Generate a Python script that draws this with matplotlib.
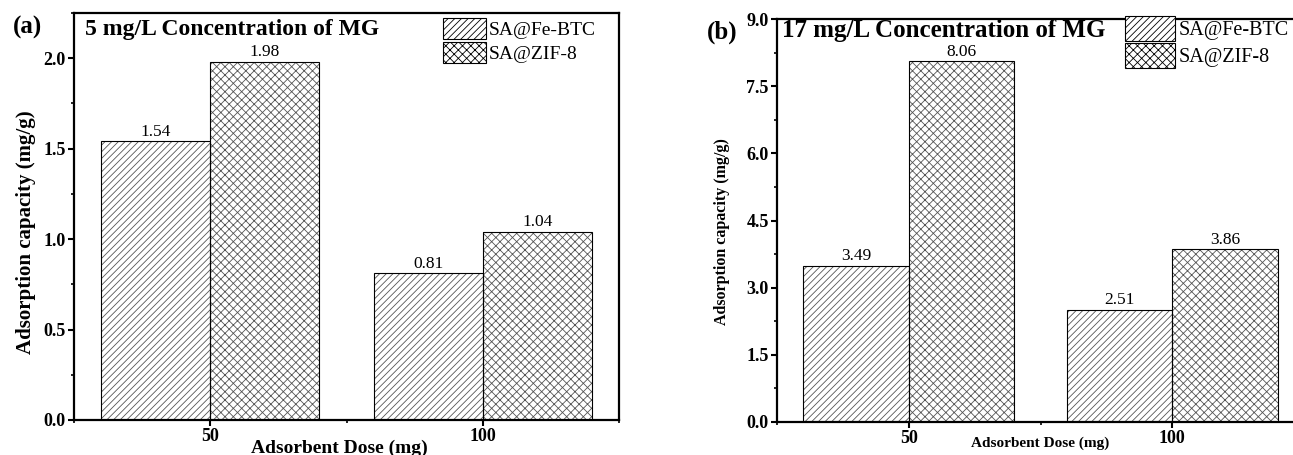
import matplotlib
matplotlib.use("Agg")
import matplotlib.pyplot as plt
import numpy as np
from matplotlib.patches import Patch
from matplotlib.ticker import MultipleLocator, FormatStrFormatter

plt.rcParams['font.family'] = ['Liberation Serif', 'DejaVu Serif']
plt.rcParams['hatch.linewidth'] = 0.6

doses = ["50", "100"]
series = ["SA@Fe-BTC", "SA@ZIF-8"]
vals_a = {"SA@Fe-BTC": [1.54, 0.81], "SA@ZIF-8": [1.98, 1.04]}
vals_b = {"SA@Fe-BTC": [3.49, 2.51], "SA@ZIF-8": [8.06, 3.86]}
title_a = "5 mg/L Concentration of MG"
title_b = "17 mg/L Concentration of MG"
ylabel = "Adsorption capacity (mg/g)"
xlabel = "Adsorbent Dose (mg)"

hatches = {"SA@Fe-BTC": "/////", "SA@ZIF-8": "xxxx"}
hatch_col = "#555555"

W, H = 1293, 455
fig = plt.figure(figsize=(W / 100, H / 100), dpi=100)


def rect(l, t, r, b):
    return [l / W, 1 - b / H, (r - l) / W, (b - t) / H]


def draw(ax, vals, ymax, major, tick_fs, val_fs):
    x = np.arange(len(doses))
    w = 0.4
    for i, s in enumerate(series):
        pos = x + (i - 0.5) * w
        ax.bar(pos, vals[s], w, color="white", edgecolor=hatch_col,
               hatch=hatches[s], linewidth=0, zorder=2)
        ax.bar(pos, vals[s], w, fill=False, edgecolor="black",
               linewidth=0.8, zorder=3)
        for p, v in zip(pos, vals[s]):
            ax.annotate(f"{v:.2f}", (p, v), xytext=(0, 1),
                        textcoords="offset points", ha="center", va="bottom",
                        fontsize=val_fs)
    ax.set_xlim(-0.5, 1.5)
    ax.set_ylim(0, ymax)
    ax.set_xticks(x)
    ax.set_xticklabels(doses, fontweight="bold", fontsize=tick_fs)
    ax.xaxis.set_minor_locator(MultipleLocator(0.5))
    ax.yaxis.set_major_locator(MultipleLocator(major))
    ax.yaxis.set_minor_locator(MultipleLocator(major / 2))
    ax.yaxis.set_major_formatter(FormatStrFormatter("%.1f"))
    for lab in ax.get_yticklabels():
        lab.set_fontweight("bold")
        lab.set_fontsize(tick_fs)
    ax.tick_params(axis="both", which="major", direction="out", length=4,
                   width=1.5, pad=2)
    ax.tick_params(axis="both", which="minor", direction="out", length=2.5,
                   width=1.2)
    for sp in ax.spines.values():
        sp.set_linewidth(1.6)


ax1 = fig.add_axes(rect(74, 13, 619, 420))
draw(ax1, vals_a, 2.25, 0.5, 13, 12.5)
ax1.text(0.02, 0.96, title_a, transform=ax1.transAxes, fontsize=17,
         fontweight="bold", va="center", ha="left")

ax2 = fig.add_axes(rect(777, 19, 1304, 422))
draw(ax2, vals_b, 9.0, 1.5, 13, 12.5)
ax2.text(0.01, 0.972, title_b, transform=ax2.transAxes, fontsize=18,
         fontweight="bold", va="center", ha="left")
labs = ax2.get_yticklabels()
labs[-1].set_fontsize(10)
labs[-1].set_va("bottom")

h = [Patch(facecolor="white", edgecolor="black", hatch=hatches[s], lw=0.8)
     for s in series]
leg1 = ax1.legend(h, series, loc="upper left",
                  bbox_to_anchor=(443 / W, 1 - 18 / H),
                  bbox_transform=fig.transFigure, frameon=False, fontsize=14,
                  handlelength=2.2, handleheight=1.3, handletextpad=0.15,
                  labelspacing=0.12, borderpad=0, borderaxespad=0)
leg2 = ax2.legend(h, series, loc="upper left",
                  bbox_to_anchor=(1125 / W, 1 - 16 / H),
                  bbox_transform=fig.transFigure, frameon=False, fontsize=14.5,
                  handlelength=2.5, handleheight=1.5, handletextpad=0.15,
                  labelspacing=0.12, borderpad=0, borderaxespad=0)

fig.text(26 / W, 1 - 232 / H, ylabel, rotation=90, ha="center", va="center",
         fontsize=15, fontweight="bold")
fig.text(722 / W, 1 - 232 / H, ylabel, rotation=90, ha="center", va="center",
         fontsize=11.5, fontweight="bold")
fig.text(339 / W, 1 - 448 / H, xlabel, ha="center", va="center",
         fontsize=14, fontweight="bold")
fig.text(1040 / W, 1 - 443 / H, xlabel, ha="center", va="center",
         fontsize=11, fontweight="bold")
fig.text(27 / W, 1 - 27 / H, "(a)", ha="center", va="center",
         fontsize=18, fontweight="bold")
fig.text(722 / W, 1 - 32 / H, "(b)", ha="center", va="center",
         fontsize=18, fontweight="bold")

fig.savefig("out.png", dpi=100)
